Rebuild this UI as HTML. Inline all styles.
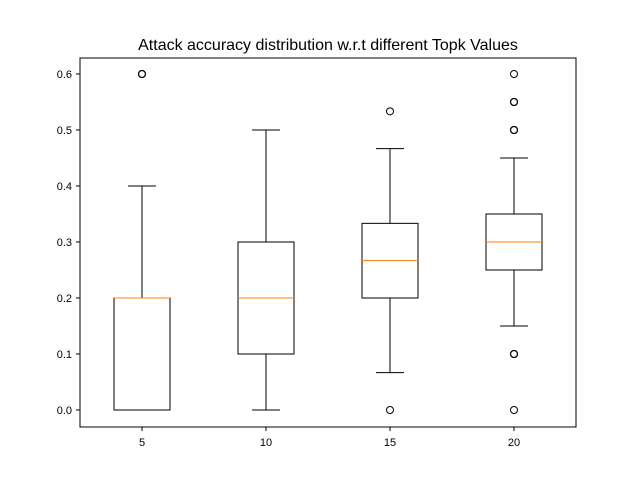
<!DOCTYPE html>
<html><head><meta charset="utf-8"><style>body{margin:0;background:#fff}svg{display:block;font-family:"Liberation Sans","DejaVu Sans",sans-serif}</style></head>
<body>
<svg id="chart" width="640" height="480">
<rect width="640" height="480" fill="#fff"/>
<text x="328" y="50" font-size="16" text-anchor="middle">Attack accuracy distribution w.r.t different Topk Values</text>
<g id="plot"></g>
<rect x="80" y="58" width="496" height="369" fill="none" stroke="#000" stroke-width="1"/>
</svg>
<script>
const categories = ["5","10","15","20"];
const whiskLow = [0, 0, 0.0667, 0.15];
const q1 = [0, 0.1, 0.2, 0.25];
const medians = [0.2, 0.2, 0.2667, 0.3];
const q3 = [0.2, 0.3, 0.3333, 0.35];
const whiskHigh = [0.4, 0.5, 0.4667, 0.45];
const fliers = [[0.6, 0.6, 0.6], [], [0, 0.5333], [0.1, 0.1, 0.1, 0, 0.5, 0.5, 0.5, 0.55, 0.55, 0.55, 0.6]];
const yTicks = [0, 0.1, 0.2, 0.3, 0.4, 0.5, 0.6];
const yTickLabels = ["0.0","0.1","0.2","0.3","0.4","0.5","0.6"];

const ns = "http://www.w3.org/2000/svg";
const g = document.getElementById('plot');
const y = v => 410 - v * 560;
const x = i => 142 + i * 124;
function mk(tag, attrs) { const e = document.createElementNS(ns, tag); for (const k in attrs) e.setAttribute(k, attrs[k]); g.appendChild(e); return e; }
yTicks.forEach((t, i) => {
  const tk = mk('line', {x1: 76, x2: 80, y1: y(t), y2: y(t), stroke: '#000'});
  
  
  const lb = mk('text', {x: 72, y: y(t) + 4, 'font-size': 11, 'text-anchor': 'end'});
  lb.textContent = yTickLabels[i];
  
  
});
categories.forEach((c, i) => {
  const cx = x(i);
  const tk = mk('line', {x1: cx, x2: cx, y1: 427, y2: 431, stroke: '#000'});
  
  
  const lb = mk('text', {x: cx, y: 446, 'font-size': 11, 'text-anchor': 'middle'});
  lb.textContent = c;
  
  
  const box = mk('rect', {x: cx - 28, y: y(q3[i]), width: 56, height: Math.max(0, y(q1[i]) - y(q3[i])), fill: 'none', stroke: '#000'});
  
  
  const w1 = mk('line', {x1: cx, x2: cx, y1: y(q1[i]), y2: y(whiskLow[i]), stroke: '#000'});
  
  
  const w2 = mk('line', {x1: cx, x2: cx, y1: y(q3[i]), y2: y(whiskHigh[i]), stroke: '#000'});
  
  
  const c1 = mk('line', {x1: cx - 14, x2: cx + 14, y1: y(whiskLow[i]), y2: y(whiskLow[i]), stroke: '#000'});
  
  
  const c2 = mk('line', {x1: cx - 14, x2: cx + 14, y1: y(whiskHigh[i]), y2: y(whiskHigh[i]), stroke: '#000'});
  
  
  const md = mk('line', {x1: cx - 28, x2: cx + 28, y1: y(medians[i]), y2: y(medians[i]), stroke: '#ff7f0e'});
  
  
  fliers[i].forEach(f => {
    const p = mk('circle', {cx: cx, cy: y(f), r: 3.5, fill: 'none', stroke: '#000'});
    
    
  });
});
</script>
</body></html>
